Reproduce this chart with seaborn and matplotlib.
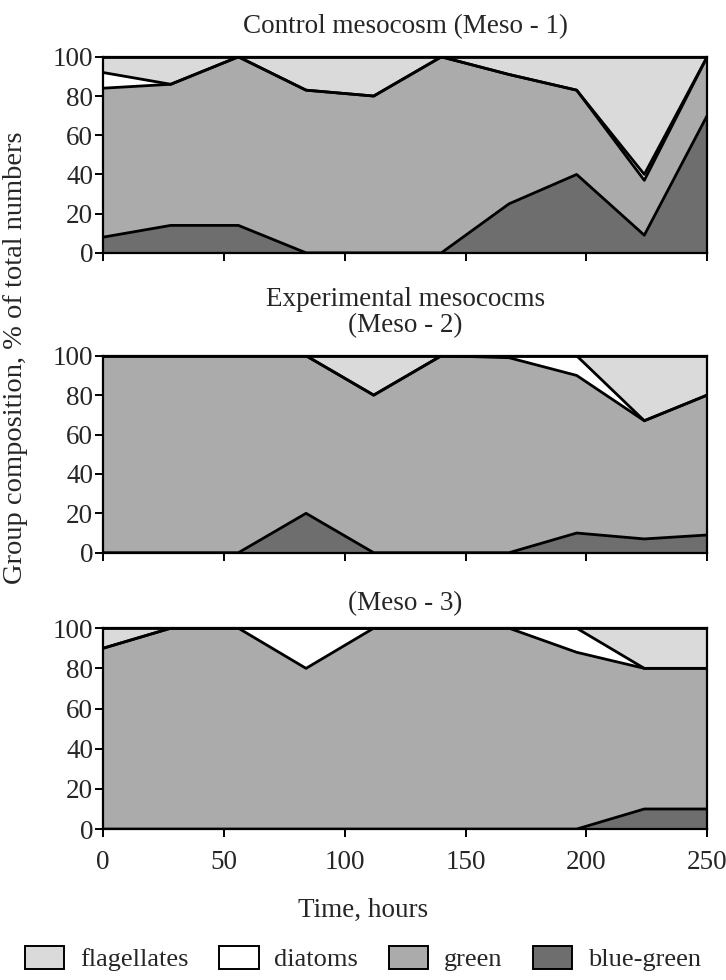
import numpy as np
import pandas as pd
import matplotlib
matplotlib.use("Agg")
import matplotlib.pyplot as plt
import seaborn as sns
from matplotlib.patches import Patch

# sampling times, hours
hours = [0, 28, 56, 84, 112, 140, 168, 196, 224, 250]

groups = ["blue-green", "green", "diatoms", "flagellates"]
colors = {"blue-green": "#6e6e6e", "green": "#ababab",
          "diatoms": "#ffffff", "flagellates": "#dadada"}

# % of total numbers per group
meso1_bluegreen = [8, 14, 14, 0, 0, 0, 25, 40, 9, 70]
meso1_green = [76, 72, 86, 83, 80, 100, 66, 43, 28, 30]
meso1_diatoms = [8, 0, 0, 0, 0, 0, 0, 0, 3, 0]
meso1_flagellates = [8, 14, 0, 17, 20, 0, 9, 17, 60, 0]

meso2_bluegreen = [0, 0, 0, 20, 0, 0, 0, 10, 7, 9]
meso2_green = [100, 100, 100, 80, 80, 100, 99, 80, 60, 71]
meso2_diatoms = [0, 0, 0, 0, 0, 0, 1, 10, 0, 0]
meso2_flagellates = [0, 0, 0, 0, 20, 0, 0, 0, 33, 20]

meso3_bluegreen = [0, 0, 0, 0, 0, 0, 0, 0, 10, 10]
meso3_green = [90, 100, 100, 80, 100, 100, 100, 88, 70, 70]
meso3_diatoms = [0, 0, 0, 20, 0, 0, 0, 12, 0, 0]
meso3_flagellates = [10, 0, 0, 0, 0, 0, 0, 0, 20, 20]

panels = [
    ("Control mesocosm (Meso - 1)",
     [meso1_bluegreen, meso1_green, meso1_diatoms, meso1_flagellates]),
    ("Experimental mesococms\n(Meso - 2)",
     [meso2_bluegreen, meso2_green, meso2_diatoms, meso2_flagellates]),
    ("(Meso - 3)",
     [meso3_bluegreen, meso3_green, meso3_diatoms, meso3_flagellates]),
]

sns.set_theme(style="ticks")
plt.rcParams["font.family"] = ["Liberation Serif", "DejaVu Serif"]

fs = 19.5
fig = plt.figure(figsize=(7.26, 9.8), dpi=100)
boxes = [[0.142, 0.742, 0.832, 0.200],
         [0.142, 0.436, 0.832, 0.201],
         [0.142, 0.154, 0.832, 0.205]]
pads = [17, 17, 13]

for (title, series), box, pad in zip(panels, boxes, pads):
    ax = fig.add_axes(box)
    df = pd.DataFrame(dict(zip(groups, series)), index=hours)
    cum = df.cumsum(axis=1)
    lower = np.zeros(len(hours))
    for g in groups:
        ax.fill_between(hours, lower, cum[g].values, color=colors[g], lw=0, zorder=1)
        lower = cum[g].values
    long = cum.reset_index(names="hours").melt(id_vars="hours", var_name="group", value_name="pct")
    sns.lineplot(data=long, x="hours", y="pct", units="group", estimator=None,
                 color="black", lw=2.0, ax=ax, zorder=3, legend=False)
    ax.set_xlim(0, 250)
    ax.set_ylim(0, 100)
    ax.set_yticks(range(0, 101, 20))
    ax.set_xticks(range(0, 251, 50))
    ax.set_xlabel("")
    ax.set_ylabel("")
    ax.tick_params(labelsize=fs, length=6, width=1.4, color="black")
    ax.tick_params(axis="x", pad=9)
    ax.tick_params(axis="y", pad=1)
    for s in ax.spines.values():
        s.set_linewidth(1.6)
        s.set_color("black")
    ax.set_title(title, fontsize=fs, pad=pad, linespacing=1.05)
    if box is not boxes[-1]:
        ax.set_xticklabels([])

fig.text(0.5, 0.071, "Time, hours", ha="center", va="center", fontsize=fs)
fig.text(0.021, 0.635, "Group composition, % of total numbers", rotation=90,
         ha="center", va="center", fontsize=20.5)

handles = [Patch(facecolor=colors[g], edgecolor="black", lw=1.4, label=g)
           for g in ["flagellates", "diatoms", "green", "blue-green"]]
fig.legend(handles=handles, loc="lower center", bbox_to_anchor=(0.5, 0.006), ncol=4,
           frameon=False, fontsize=19, handlelength=1.5, handleheight=1.0,
           columnspacing=1.15, handletextpad=0.6, borderpad=0.1, borderaxespad=0)

fig.savefig("out.png", dpi=100)
